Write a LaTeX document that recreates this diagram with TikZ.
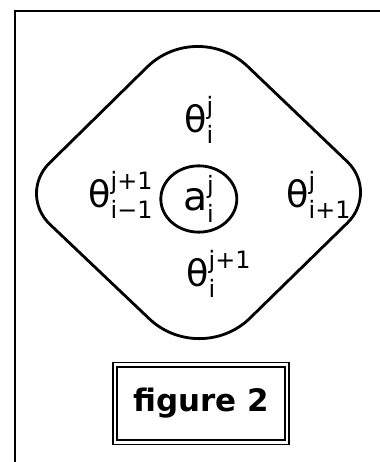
\documentclass[tikz,border=0pt]{standalone}
\usepackage{amsmath}
\usepackage{fontspec}
\setmainfont{DejaVu Sans}
\usetikzlibrary{calc,shapes.geometric}
\DeclareMathSizes{26}{26}{17}{12}
\DeclareMathSizes{28}{28}{17}{12}

\newcommand{\thetavar}[2]{$\text{θ}_{\text{#1}}^{\text{#2}}$}

\begin{document}
\begin{tikzpicture}[
  frame/.style={line width=2pt},
  cellline/.style={line width=2pt},
  gridvar/.style={inner sep=0pt, anchor=base west, font=\fontsize{26}{30}\selectfont},
  figbox/.style={draw, double, double distance=2pt, line width=1.1pt,
    minimum width=4.3cm, minimum height=1.93cm, inner sep=0pt,
    font=\bfseries\fontsize{22}{26}\selectfont}
]

% page size of the reference
\useasboundingbox (0,0) rectangle (9.5,11.55);

% open frame: top and left edges only
\draw[frame] (9.5,11.275) -- (0.375,11.275) -- (0.375,0);

% rounded diamond round the stencil
% (left/right corners r=1.1cm, top/bottom corners r=1.75cm)
\coordinate (L) at (0.45,6.7);
\coordinate (T) at (4.925,11.1);
\coordinate (R) at (9.475,6.75);
\coordinate (B) at (5.0,2.375);
\draw[cellline]
  ($(L)!1.1cm!(T)$) -- ($(T)!1.75cm!(L)$)
  .. controls ($(T)!0.78cm!(L)$) and ($(T)!0.78cm!(R)$) .. ($(T)!1.75cm!(R)$)
  -- ($(R)!1.1cm!(T)$)
  .. controls ($(R)!0.49cm!(T)$) and ($(R)!0.49cm!(B)$) .. ($(R)!1.1cm!(B)$)
  -- ($(B)!1.75cm!(R)$)
  .. controls ($(B)!0.78cm!(R)$) and ($(B)!0.78cm!(L)$) .. ($(B)!1.75cm!(L)$)
  -- ($(L)!1.1cm!(B)$)
  .. controls ($(L)!0.49cm!(B)$) and ($(L)!0.49cm!(T)$) .. cycle;

% centre point
\node[draw, cellline, ellipse, minimum width=1.9cm, minimum height=1.55cm,
      inner sep=0pt, font=\fontsize{28}{32}\selectfont]
  (aij) at (4.97,6.575) {$\text{a}_{\text{i}}^{\text{j}}$};

% neighbours
\node[gridvar] (thN) at (4.6,8.225) {\thetavar{i}{j}};
\node[gridvar] (thW) at (2.2,6.35) {\thetavar{i−1}{j+1}};
\node[gridvar] (thE) at (7.15,6.35) {\thetavar{i+1}{j}};
\node[gridvar] (thS) at (4.65,4.375) {\thetavar{i}{j+1}};

% caption
\node[figbox] (caption) at (5.025,1.4625) {figure 2};

\end{tikzpicture}
\end{document}
